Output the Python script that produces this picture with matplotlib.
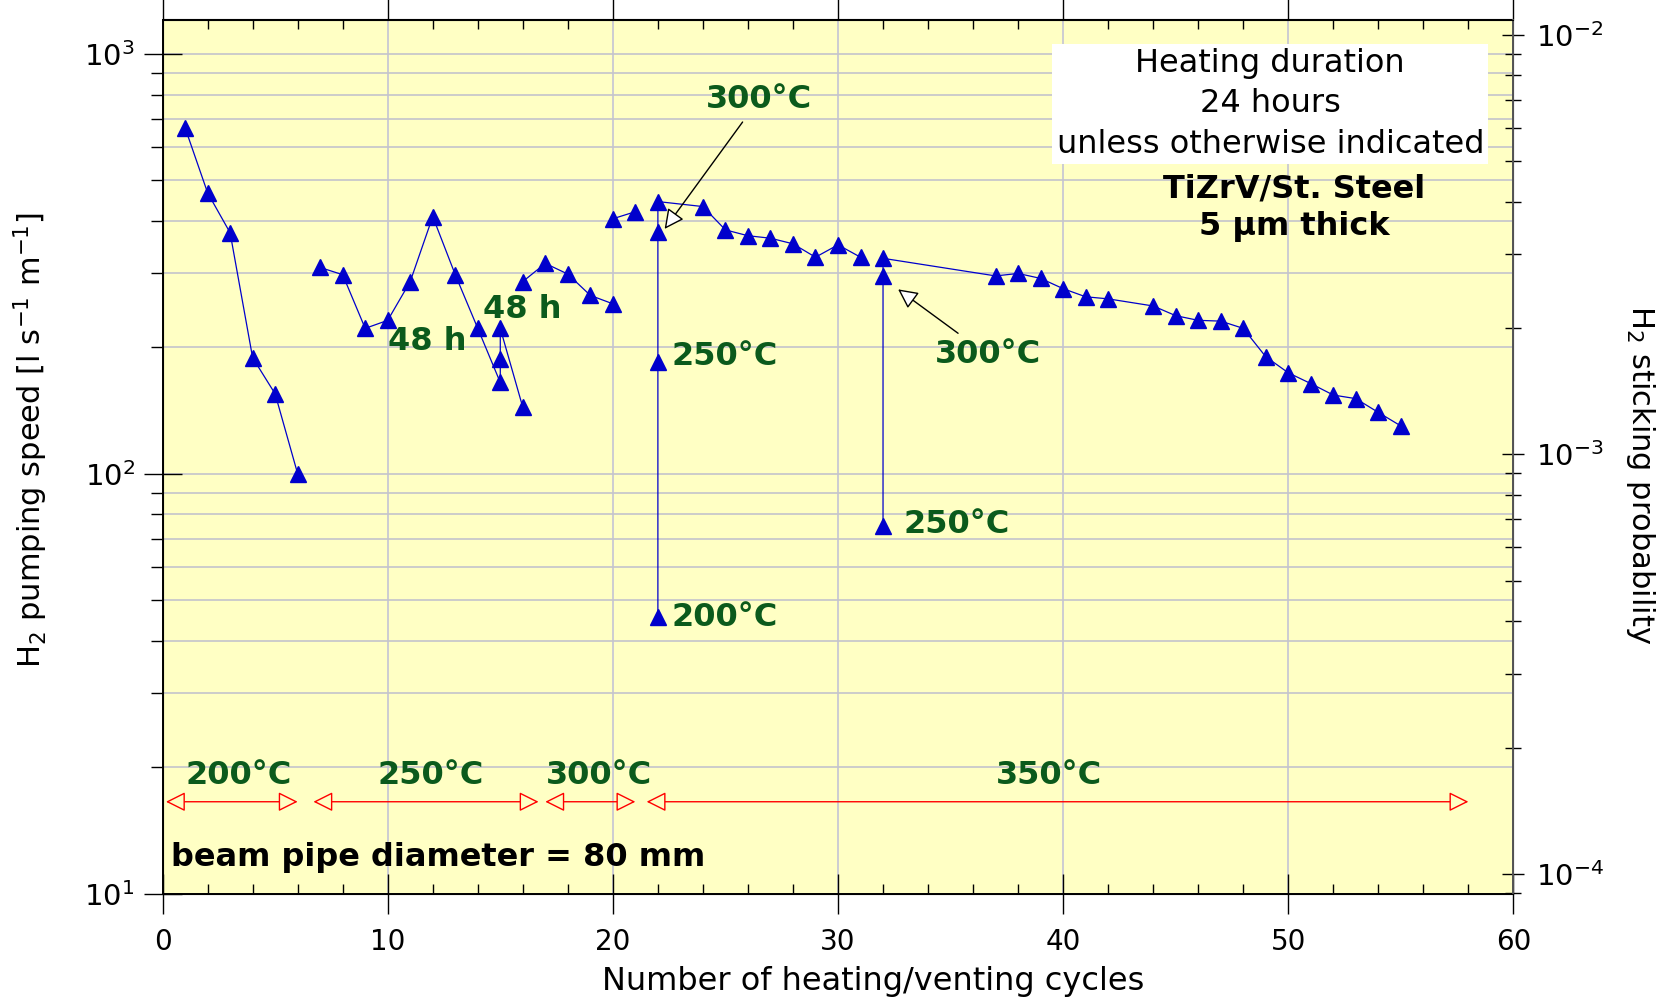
import matplotlib.pyplot as plt
from matplotlib.ticker import LogLocator, MultipleLocator, NullFormatter

# pumping speed [l s-1 m-1] vs heating/venting cycle, one list per drawn line
x_200 = [1, 2, 3, 4, 5, 6]
s_200 = [667, 467, 375, 189, 155, 100]

x_250 = [7, 8, 9, 10, 11, 12, 13, 14, 15, 15, 15, 16]
s_250 = [310, 298, 222, 232, 287, 410, 298, 222, 165, 188, 222, 144]

x_300 = [16, 17, 18, 19, 20]
s_300 = [287, 317, 299, 266, 254]

x_350a = [20, 21]
s_350a = [405, 421]

x_350b = [22, 22, 22, 22, 24, 25, 26, 27, 28, 29, 30, 31]
s_350b = [45.6, 185, 377, 445, 433, 381, 369, 364, 353, 328, 351, 328]

x_350c = [32, 32, 32, 37, 38, 39, 40, 41, 42, 44, 45, 46, 47, 48, 49, 50, 51, 52, 53, 54, 55]
s_350c = [75, 296, 326, 296, 300, 292, 276, 264, 261, 251, 238, 232, 231, 222, 190, 174, 164, 154, 151, 140, 130]

series = [(x_200, s_200), (x_250, s_250), (x_300, s_300),
          (x_350a, s_350a), (x_350b, s_350b), (x_350c, s_350c)]

# bake temperature ranges along the bottom
ranges = [(0.15, 6.0), (6.7, 16.7), (17.0, 21.0), (21.5, 58.0)]
range_labels = ['200°C', '250°C', '300°C', '350°C']
range_label_x = [3.36, 11.9, 19.4, 39.35]

bg = '#ffffc4'
green = '#0b5a1c'
blue = '#0000cc'

fig = plt.figure(figsize=(16.76, 10), dpi=100)
ax = fig.add_axes([0.097, 0.1064, 0.806, 0.8741])
ax.set_facecolor(bg)

for xs, ys in series:
    ax.plot(xs, ys, color=blue, lw=0.9, marker='^', ms=11, mfc=blue, mec=blue, zorder=3)

ax.set_yscale('log')
ax.set_xlim(0, 60)
ax.set_ylim(10, 1208)

# grid
ax.yaxis.set_major_locator(LogLocator(base=10))
ax.yaxis.set_minor_locator(LogLocator(base=10, subs=range(2, 10)))
ax.yaxis.set_minor_formatter(NullFormatter())
ax.xaxis.set_major_locator(MultipleLocator(10))
ax.xaxis.set_minor_locator(MultipleLocator(2))
ax.grid(True, which='both', axis='y', color='#c4c4cc', lw=1.2)
ax.grid(True, which='major', axis='x', color='#c4c4d4', lw=1.2)
ax.set_axisbelow(True)

ax.tick_params(axis='x', which='major', direction='inout', length=29, width=1, labelsize=20, pad=10)
ax.tick_params(axis='x', which='minor', direction='in', length=7, width=1)
ax.tick_params(axis='y', which='major', direction='inout', length=28, width=1, labelsize=21, pad=6)
ax.tick_params(axis='y', which='minor', direction='out', length=9, width=1)
for s in ['left', 'bottom', 'top']:
    ax.spines[s].set_linewidth(1.4)

top = ax.secondary_xaxis('top')
top.xaxis.set_major_locator(MultipleLocator(10))
top.xaxis.set_minor_locator(MultipleLocator(2))
top.tick_params(which='major', direction='out', length=15, width=1, labeltop=False)
top.tick_params(which='minor', direction='in', length=7, width=1)

ax.set_xlabel('Number of heating/venting cycles', fontsize=23)
ax.xaxis.set_label_coords(0.526, -0.083)
ax.set_ylabel(r'H$_2$ pumping speed [l s$^{-1}$ m$^{-1}$]', fontsize=22)
ax.yaxis.set_label_coords(-0.083, 0.519)

# sticking probability axis
ax2 = ax.twinx()
ax2.set_yscale('log')
ax2.set_ylim(10 ** -4.047, 10 ** -1.964)
ax2.yaxis.set_minor_formatter(NullFormatter())
ax2.tick_params(which='major', direction='inout', length=16, width=1, labelsize=21, pad=8)
ax2.tick_params(which='minor', direction='inout', length=12, width=1)
ax2.spines['right'].set_color('#555555')
ax2.spines['right'].set_linewidth(1.4)
ax2.set_ylabel(r'H$_2$ sticking probability', fontsize=22, rotation=-90)
ax2.yaxis.set_label_coords(1.106, 0.479)

# annotations
tf = dict(color=green, fontsize=23, fontweight='bold')
ax.annotate('300°C', xy=(22.3, 383), xytext=(26.5, 780), ha='center', va='center',
            arrowprops=dict(arrowstyle='-|>', fc='white', ec='black', lw=1,
                            mutation_scale=30, shrinkA=4, shrinkB=0), **tf)
ax.annotate('300°C', xy=(32.67, 275), xytext=(36.64, 192), ha='center', va='center',
            arrowprops=dict(arrowstyle='-|>', fc='white', ec='black', lw=1,
                            mutation_scale=30, shrinkA=4, shrinkB=0), **tf)
ax.text(22.6, 190, '250°C', ha='left', va='center', **tf)
ax.text(22.6, 45.4, '200°C', ha='left', va='center', **tf)
ax.text(32.9, 75.6, '250°C', ha='left', va='center', **tf)
ax.text(11.76, 206.6, '48 h', ha='center', va='center', **tf)
ax.text(15.98, 246.6, '48 h', ha='center', va='center', **tf)

for (a, b), lab, lx in zip(ranges, range_labels, range_label_x):
    ax.annotate('', xy=(a, 16.55), xytext=(b, 16.55),
                arrowprops=dict(arrowstyle='<|-|>', fc=bg, ec='red', lw=1,
                                mutation_scale=30, shrinkA=0, shrinkB=0))
    ax.text(lx, 19.1, lab, ha='center', va='center', **tf)

ax.text(0.38, 12.2, 'beam pipe diameter = 80 mm', ha='left', va='center',
        color='black', fontsize=23, fontweight='bold')

ax.text(49.2, 760, 'Heating duration\n24 hours\nunless otherwise indicated',
        ha='center', va='center', fontsize=23, linespacing=1.4, zorder=5,
        bbox=dict(fc='white', ec='none', pad=3))
ax.text(50.27, 430, 'TiZrV/St. Steel\n5 µm thick', ha='center', va='center',
        fontsize=23, fontweight='bold', linespacing=1.25)

fig.savefig('out.png', dpi=100)
